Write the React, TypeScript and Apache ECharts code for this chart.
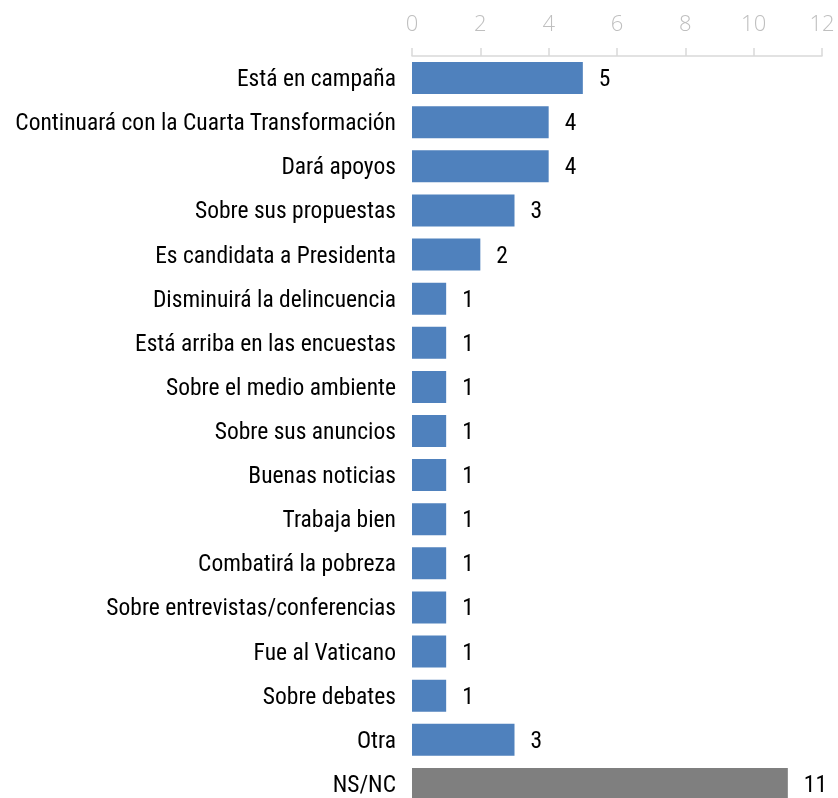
import React, { useEffect, useRef } from "react";
import * as echarts from "echarts";

const categories = [
  "Está en campaña",
  "Continuará con la Cuarta Transformación",
  "Dará apoyos",
  "Sobre sus propuestas",
  "Es candidata a Presidenta",
  "Disminuirá la delincuencia",
  "Está arriba en las encuestas",
  "Sobre el medio ambiente",
  "Sobre sus anuncios",
  "Buenas noticias",
  "Trabaja bien",
  "Combatirá la pobreza",
  "Sobre entrevistas/conferencias",
  "Fue al Vaticano",
  "Sobre debates",
  "Otra",
  "NS/NC",
];
const values = [5, 4, 4, 3, 2, 1, 1, 1, 1, 1, 1, 1, 1, 1, 1, 3, 11];
const highlightCategory = "NS/NC";
const blue = "#4f81bd";
const gray = "#7f7f7f";

export default function App() {
  const ref = useRef<HTMLDivElement>(null);
  useEffect(() => {
    if (!ref.current) return;
    const chart = echarts.init(ref.current, null, { renderer: "svg" });
    const labelFont = "'Roboto Condensed', 'Liberation Sans Narrow', Roboto, sans-serif";
    chart.setOption({
      animation: false,
      grid: { left: 412, top: 56, right: 16, bottom: 0, containLabel: false },
      xAxis: {
        type: "value",
        position: "top",
        min: 0,
        max: 12,
        interval: 2,
        splitLine: { show: false },
        axisLine: { show: true, lineStyle: { color: "#d9d9d9", width: 1.5 } },
        axisTick: { show: true, length: 8, lineStyle: { color: "#d9d9d9", width: 1.5 } },
        axisLabel: {
          margin: 23,
          color: "#bfbfbf",
          fontSize: 22,
          fontFamily: "'Open Sans', sans-serif",
          fontWeight: 300,
        },
      },
      yAxis: {
        type: "category",
        inverse: true,
        data: categories,
        axisLine: { show: false },
        axisTick: { show: false },
        axisLabel: {
          margin: 16,
          color: "#000",
          fontSize: 23.5,
          fontFamily: labelFont,
        },
      },
      series: [
        {
          type: "bar",
          barWidth: 32,
          data: values.map((v, i) => ({
            value: v,
            itemStyle: { color: categories[i] === highlightCategory ? gray : blue },
          })),
          label: {
            show: true,
            position: "right",
            distance: 16,
            color: "#000",
            fontSize: 23.5,
            fontFamily: labelFont,
          },
        },
      ],
    });
    return () => chart.dispose();
  }, []);
  return (
    <div
      ref={ref}
      style={{ position: "fixed", left: 0, top: 0, width: 838, height: 806 }}
    />
  );
}
